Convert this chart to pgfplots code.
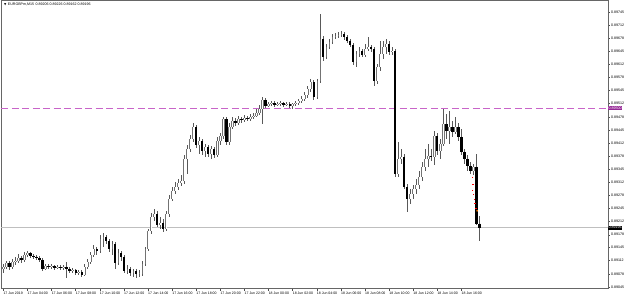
\documentclass[border=0pt]{standalone}
\usepackage{fontspec}
\setmainfont{Liberation Sans}
\newfontfamily\dejavu{DejaVu Sans}
\usepackage{pgfplots}
\usepackage{pgfplotstable}
\pgfplotsset{compat=1.18}
\definecolor{lvl}{RGB}{200,100,200}
\definecolor{lvlbox}{RGB}{150,40,150}

\pgfplotstableread{
i o h l c
0 0.89091 0.89104 0.89081 0.89096
1 0.89096 0.89111 0.89091 0.89106
2 0.89106 0.89111 0.89089 0.89096
3 0.89096 0.89117 0.89091 0.89109
4 0.89109 0.89122 0.89101 0.89111
5 0.89111 0.89129 0.89106 0.89119
6 0.89119 0.89124 0.89106 0.89114
7 0.89114 0.89134 0.89109 0.89127
8 0.89127 0.89137 0.89122 0.89132
9 0.89132 0.89134 0.89119 0.89124
10 0.89124 0.89129 0.89117 0.89122
11 0.89122 0.89127 0.89114 0.89119
12 0.89119 0.89124 0.89109 0.89114
13 0.89114 0.89119 0.89086 0.89091
14 0.89091 0.89104 0.89089 0.89099
15 0.89099 0.89104 0.89091 0.89096
16 0.89096 0.89104 0.89091 0.89099
17 0.89099 0.89101 0.89089 0.89094
18 0.89094 0.89101 0.89091 0.89096
19 0.89096 0.89101 0.89089 0.89094
20 0.89094 0.89101 0.89089 0.89096
21 0.89096 0.89109 0.89068 0.89091
22 0.89091 0.89096 0.89081 0.89086
23 0.89086 0.89094 0.89081 0.89089
24 0.89089 0.89091 0.89076 0.89081
25 0.89081 0.89089 0.89076 0.89084
26 0.89084 0.89089 0.89071 0.89076
27 0.89076 0.89104 0.89073 0.89096
28 0.89096 0.89117 0.89091 0.89109
29 0.89109 0.89134 0.89104 0.89127
30 0.89127 0.89152 0.89122 0.89142
31 0.89142 0.89147 0.89127 0.89137
32 0.89137 0.89178 0.89132 0.89167
33 0.89167 0.89183 0.89147 0.89172
34 0.89172 0.89178 0.89155 0.89162
35 0.89162 0.89167 0.89134 0.89142
36 0.89142 0.89162 0.89127 0.89155
37 0.89155 0.89160 0.89091 0.89106
38 0.89106 0.89142 0.89101 0.89132
39 0.89132 0.89137 0.89111 0.89122
40 0.89122 0.89127 0.89081 0.89086
41 0.89086 0.89101 0.89079 0.89091
42 0.89091 0.89096 0.89073 0.89081
43 0.89081 0.89091 0.89071 0.89086
44 0.89086 0.89091 0.89068 0.89079
45 0.89079 0.89089 0.89071 0.89081
46 0.89079 0.89111 0.89073 0.89104
47 0.89104 0.89147 0.89099 0.89142
48 0.89142 0.89193 0.89137 0.89188
49 0.89188 0.89234 0.89180 0.89224
50 0.89224 0.89244 0.89213 0.89231
51 0.89231 0.89239 0.89198 0.89203
52 0.89203 0.89224 0.89193 0.89208
53 0.89208 0.89219 0.89185 0.89193
54 0.89193 0.89239 0.89188 0.89231
55 0.89231 0.89279 0.89224 0.89269
56 0.89269 0.89300 0.89264 0.89290
57 0.89290 0.89312 0.89282 0.89300
58 0.89300 0.89320 0.89292 0.89310
59 0.89310 0.89330 0.89302 0.89315
60 0.89315 0.89381 0.89307 0.89371
61 0.89371 0.89406 0.89333 0.89396
62 0.89396 0.89432 0.89389 0.89422
63 0.89422 0.89462 0.89414 0.89452
64 0.89452 0.89457 0.89399 0.89406
65 0.89406 0.89427 0.89384 0.89417
66 0.89417 0.89422 0.89381 0.89391
67 0.89391 0.89409 0.89376 0.89401
68 0.89401 0.89406 0.89376 0.89384
69 0.89384 0.89404 0.89371 0.89396
70 0.89396 0.89401 0.89373 0.89381
71 0.89381 0.89427 0.89376 0.89417
72 0.89417 0.89437 0.89406 0.89429
73 0.89429 0.89478 0.89422 0.89472
74 0.89472 0.89478 0.89406 0.89414
75 0.89414 0.89462 0.89406 0.89452
76 0.89452 0.89478 0.89447 0.89467
77 0.89467 0.89475 0.89455 0.89462
78 0.89462 0.89480 0.89457 0.89472
79 0.89472 0.89478 0.89462 0.89470
80 0.89470 0.89483 0.89465 0.89475
81 0.89475 0.89480 0.89467 0.89472
82 0.89472 0.89485 0.89467 0.89478
83 0.89478 0.89488 0.89472 0.89480
84 0.89480 0.89498 0.89478 0.89488
85 0.89488 0.89508 0.89483 0.89498
86 0.89498 0.89528 0.89460 0.89521
87 0.89521 0.89526 0.89500 0.89505
88 0.89505 0.89516 0.89503 0.89511
89 0.89511 0.89518 0.89505 0.89513
90 0.89513 0.89518 0.89503 0.89508
91 0.89508 0.89516 0.89505 0.89511
92 0.89511 0.89518 0.89505 0.89513
93 0.89513 0.89516 0.89503 0.89508
94 0.89508 0.89516 0.89505 0.89511
95 0.89511 0.89516 0.89500 0.89505
96 0.89505 0.89513 0.89498 0.89511
97 0.89511 0.89518 0.89505 0.89513
98 0.89513 0.89523 0.89508 0.89518
99 0.89518 0.89531 0.89513 0.89523
100 0.89523 0.89541 0.89518 0.89533
101 0.89533 0.89556 0.89526 0.89549
102 0.89549 0.89574 0.89541 0.89566
103 0.89566 0.89572 0.89521 0.89528
104 0.89528 0.89574 0.89523 0.89569
105 0.89569 0.89739 0.89564 0.89676
106 0.89676 0.89683 0.89620 0.89630
107 0.89630 0.89663 0.89625 0.89655
108 0.89655 0.89676 0.89650 0.89668
109 0.89668 0.89688 0.89663 0.89681
110 0.89681 0.89691 0.89676 0.89683
111 0.89683 0.89693 0.89678 0.89686
112 0.89686 0.89696 0.89681 0.89688
113 0.89688 0.89693 0.89673 0.89681
114 0.89681 0.89686 0.89666 0.89671
115 0.89671 0.89676 0.89655 0.89660
116 0.89660 0.89666 0.89610 0.89617
117 0.89617 0.89645 0.89605 0.89638
118 0.89638 0.89655 0.89630 0.89645
119 0.89645 0.89650 0.89630 0.89635
120 0.89635 0.89663 0.89630 0.89650
121 0.89650 0.89681 0.89645 0.89655
122 0.89655 0.89660 0.89643 0.89650
123 0.89650 0.89655 0.89556 0.89569
124 0.89569 0.89612 0.89561 0.89605
125 0.89605 0.89671 0.89594 0.89638
126 0.89638 0.89671 0.89625 0.89655
127 0.89655 0.89676 0.89638 0.89663
128 0.89663 0.89671 0.89635 0.89643
129 0.89643 0.89655 0.89635 0.89645
130 0.89645 0.89650 0.89325 0.89333
131 0.89333 0.89414 0.89325 0.89371
132 0.89371 0.89396 0.89358 0.89376
133 0.89376 0.89384 0.89295 0.89300
134 0.89300 0.89307 0.89236 0.89269
135 0.89269 0.89295 0.89257 0.89282
136 0.89282 0.89305 0.89269 0.89295
137 0.89295 0.89320 0.89282 0.89305
138 0.89305 0.89340 0.89295 0.89325
139 0.89325 0.89363 0.89315 0.89351
140 0.89351 0.89396 0.89340 0.89371
141 0.89371 0.89409 0.89351 0.89378
142 0.89378 0.89396 0.89366 0.89376
143 0.89376 0.89442 0.89356 0.89429
144 0.89429 0.89437 0.89381 0.89391
145 0.89391 0.89422 0.89371 0.89409
146 0.89409 0.89498 0.89404 0.89460
147 0.89460 0.89485 0.89422 0.89442
148 0.89442 0.89493 0.89409 0.89452
149 0.89452 0.89467 0.89427 0.89439
150 0.89439 0.89478 0.89434 0.89452
151 0.89452 0.89462 0.89417 0.89427
152 0.89427 0.89447 0.89381 0.89389
153 0.89389 0.89396 0.89358 0.89371
154 0.89371 0.89381 0.89340 0.89353
155 0.89353 0.89363 0.89333 0.89340
156 0.89340 0.89358 0.89330 0.89351
157 0.89351 0.89384 0.89203 0.89206
158 0.89206 0.89226 0.89162 0.89196
}\candles

\begin{document}
\begin{tikzpicture}
\begin{axis}[
  scale only axis, width=607.7pt, height=289pt,
  xmin=-0.662, xmax=200.56, ymin=0.890407, ymax=0.897748,
  clip=false,
  axis line style={black!60, line width=0.5pt},
  xtick pos=bottom, ytick pos=right,
  tick align=outside, major tick length=2pt,
  tick style={black!70, line width=0.4pt},
  scaled y ticks=false,
  ytick={0.89745,0.89712,0.89678,0.89645,0.89612,0.89578,0.89545,0.89512,0.89478,0.89445,0.89412,0.89378,0.89345,0.89312,0.89278,0.89245,0.89212,0.89178,0.89145,0.89112,0.89078,0.89045},
  yticklabels={0.89745,0.89712,0.89678,0.89645,0.89612,0.89578,0.89545,0.89512,0.89478,0.89445,0.89412,0.89378,0.89345,0.89312,0.89278,0.89245,0.89212,0.89178,0.89145,0.89112,0.89078,0.89045},
  yticklabel style={font=\fontsize{3.6}{4}\selectfont, text=black, inner sep=1pt},
  xtick={0,8,16,24,32,40,48,56,64,72,80,88,96,104,112,120,128,136,144,152},
  xticklabels={17 Jun 2019,17 Jun 04:00,17 Jun 06:00,17 Jun 08:00,17 Jun 10:00,17 Jun 12:00,17 Jun 14:00,17 Jun 16:00,17 Jun 18:00,17 Jun 20:00,17 Jun 22:00,18 Jun 00:00,18 Jun 02:00,18 Jun 04:00,18 Jun 06:00,18 Jun 08:00,18 Jun 10:00,18 Jun 12:00,18 Jun 14:00,18 Jun 16:00},
  xticklabel style={font=\fontsize{3.5}{4}\selectfont, anchor=north west, xshift=-0.8pt, inner sep=0.8pt},
]
% level line and current price line
\addplot[color=lvl, line width=0.7pt, dash pattern=on 7pt off 3.5pt] coordinates {(-0.662,0.89500) (200.56,0.89500)};
\addplot[color=black!25, line width=0.5pt] coordinates {(-0.662,0.89196) (200.56,0.89196)};
% wicks
\addplot[draw=none, mark=none, forget plot,
  error bars/.cd, y dir=both, y explicit, error mark=none,
  error bar style={draw=black!65, solid, line width=0.55pt}]
  table[x=i, y=o, y error plus expr={\thisrow{h}-\thisrow{o}}, y error minus expr={\thisrow{o}-\thisrow{l}}] {\candles};
% bull bodies (outline + white fill)
\addplot[draw=none, mark=none, forget plot,
  error bars/.cd, y dir=both, y explicit, error mark=none,
  error bar style={draw=black!55, solid, line width=2.4pt}]
  table[x=i, y=o, y error plus expr={max(\thisrow{c}-\thisrow{o},0)}, y error minus expr={0}] {\candles};
\addplot[draw=none, mark=none, forget plot,
  error bars/.cd, y dir=both, y explicit, error mark=none,
  error bar style={draw=white, solid, line width=1.0pt}]
  table[x=i, y=o, y error plus expr={max(\thisrow{c}-\thisrow{o},0)}, y error minus expr={0}] {\candles};
% bear bodies
\addplot[draw=none, mark=none, forget plot,
  error bars/.cd, y dir=both, y explicit, error mark=none,
  error bar style={draw=black, solid, line width=2.3pt}]
  table[x=i, y=o, y error plus expr={0}, y error minus expr={max(\thisrow{o}-\thisrow{c},0)}] {\candles};
% tick trail
\addplot[only marks, mark=-, mark size=0.7pt, color=red, mark options={line width=0.6pt}] coordinates {
(155.6,0.89325) (155.8,0.89307) (155.7,0.89290) (156.0,0.89280) (156.3,0.89269) (156.5,0.89257) (156.8,0.89244)};
\addplot[only marks, mark=*, mark size=0.6pt, color=orange] coordinates {(157.2,0.89239)};
% right-side price boxes
\node[anchor=west, fill=lvlbox, text=white, inner sep=0.6pt, font=\fontsize{3.6}{4}\selectfont] at (axis cs:200.56,0.89500) {0.89500};
\node[anchor=west, fill=black, text=white, inner sep=0.6pt, font=\fontsize{3.6}{4}\selectfont] at (axis cs:200.56,0.89196) {0.89196};
% title
\node[anchor=north west, inner sep=0pt, font=\fontsize{3.6}{4}\selectfont] at (rel axis cs:0,1) [xshift=2.5pt, yshift=-3pt] {{\dejavu\fontsize{3}{4}\selectfont ▼}\, EURGBPm,M15\, 0.89206 0.89226 0.89162 0.89196};
\end{axis}
\end{tikzpicture}
\end{document}
